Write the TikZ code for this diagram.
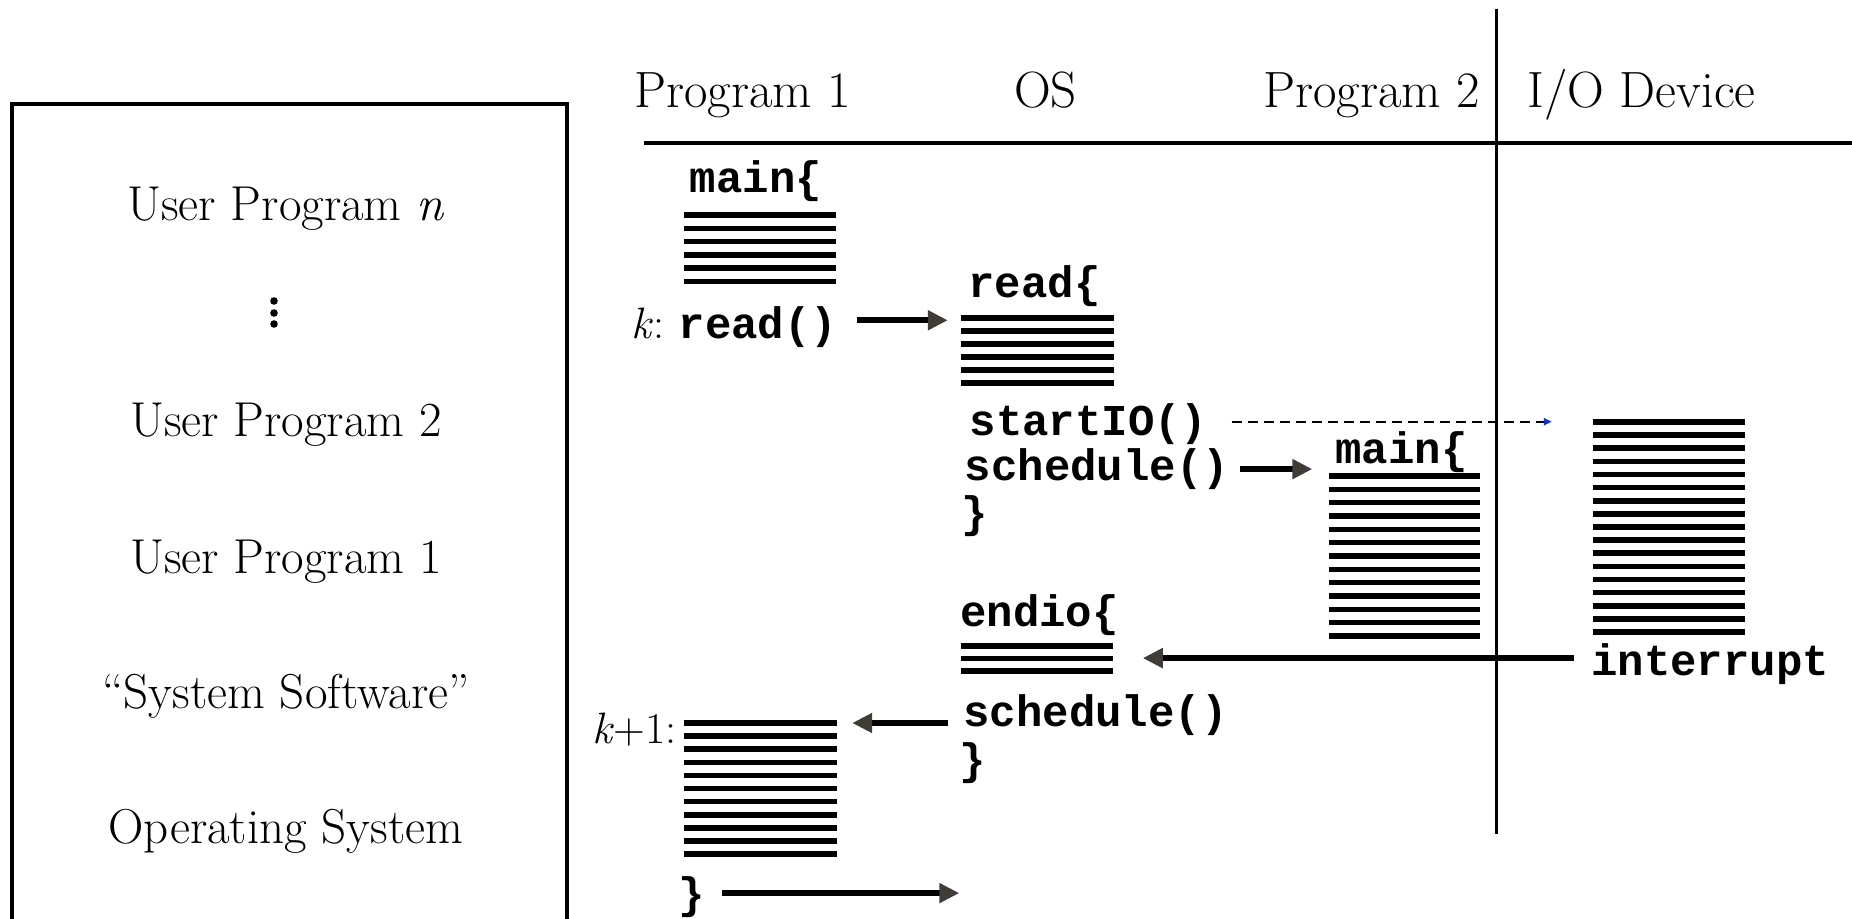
\documentclass[tikz,border=0pt]{standalone}
\usepackage{fontspec}
\setmonofont{Liberation Mono}
\usetikzlibrary{arrows.meta,calc,fit}
\definecolor{headgray}{HTML}{3F3D36}
\definecolor{iobl}{HTML}{1530C8}
% name, x1, x2, y of first line, spacing, number of lines
\newcommand\mkblock[6]{%
  \foreach \i in {1,...,#6}{\draw[codeline] (#2,{#4+(\i-1)*#5}) -- (#3,{#4+(\i-1)*#5});}
  \coordinate (#1-nw) at (#2,#4);
  \coordinate (#1-se) at (#3,{#4+(#6-1)*#5});
  \node[fit=(#1-nw)(#1-se),inner sep=0pt,draw=none] (#1) {};
}
\begin{document}
\begin{tikzpicture}[x=1pt,y=-1pt,
  hdr/.style={font=\fontsize{51}{55}\selectfont, anchor=base, inner sep=0pt},
  boxtxt/.style={font=\fontsize{49}{53}\selectfont, anchor=base, inner sep=0pt},
  code/.style={font=\fontsize{44}{48}\selectfont\ttfamily\bfseries, anchor=base, inner sep=0pt, text height=26.4pt, text depth=6.6pt},
  lbl/.style={font=\fontsize{44}{48}\selectfont, anchor=base, inner sep=0pt},
  codeline/.style={line width=5.6pt},
  rule/.style={line width=3.8pt},
  arr/.style={line width=6pt, -{Triangle[length=20pt,width=19pt,color=headgray]}},
  dasharr/.style={line width=2pt, dash pattern=on 10pt off 6pt, -{Triangle[length=8pt,width=7pt,color=iobl]}}
]
\useasboundingbox (0,0) rectangle (1852,918);
\clip (0,0) rectangle (1852,918);

% left box
\draw[rule, line join=miter] (12,940) -- (12,104) -- (567,104) -- (567,940);
\node[boxtxt] (upn) at (286,220) {User Program \textit{n}};
\foreach \yy in {301,313,324} \fill (274,\yy) circle (3.8pt);
\node[boxtxt] (up2) at (286,436) {User Program 2};
\node[boxtxt] (up1) at (286,573) {User Program 1};
\node[boxtxt] (sys) at (286,708) {“System Software”};
\node[boxtxt] (os) at (286,843) {Operating System};

% headers and rules
\node[hdr] (h1) at (742.5,107) {Program 1};
\node[hdr] (h2) at (1045.5,107) {OS};
\node[hdr] (h3) at (1371.5,107) {Program 2};
\node[hdr] (h4) at (1641.5,107) {I/O Device};
\draw[rule] (644,143) -- (1852,143);
\draw[line width=3.5pt] (1496.5,9) -- (1496.5,834);

% Program 1
\node[code] (main1) at (756,192) {main\{};
\mkblock{blkA}{684}{836}{215}{13.3}{6}
\node[lbl] (klbl) at (648,338) {\textit{k}:};
\node[code] (readcall) at (758,338) {read()};

% OS: read
\node[code] (readdef) at (1034.5,297) {read\{};
\mkblock{blkB}{961}{1114}{318}{13.0}{6}
\node[code] (startio) at (1088.5,435) {startIO()};
\node[code] (sched1) at (1097,480) {schedule()};
\node[code] (brace1) at (975,527) {\}};

% Program 2
\node[code] (main2) at (1401.5,463) {main\{};
\mkblock{blkC}{1329}{1480}{476}{13.333}{13}

% I/O device
\mkblock{blkD}{1593}{1745}{422}{13.125}{17}
\node[code] (intr) at (1710,675) {interrupt};

% OS: endio
\node[code] (endio) at (1039.5,626) {endio\{};
\mkblock{blkE}{961}{1113}{646}{12.5}{3}
\node[code] (sched2) at (1095.5,726) {schedule()};
\node[code] (brace2) at (973,774) {\}};

% Program 1 resumes
\node[lbl] (k1lbl) at (634.5,743) {\textit{k}+1:};
\mkblock{blkF}{684}{837}{723}{13.1}{11}
\node[code] (endbrace) at (692,908) {\}};

% connectors
\draw[arr] ($(readcall.east)+(20pt,7.8pt)$) -- ($(readcall.east -| blkB.west)+(-13pt,7.8pt)$);
\draw[dasharr] ($(startio.east)+(24pt,3.4pt)$) -- ($(startio.east -| blkD.west)+(-41pt,3.4pt)$);
\draw[arr] ($(sched1.east)+(11pt,1pt)$) -- ($(sched1.east -| blkC.west)+(-16.5pt,1pt)$);
\draw[arr] ($(intr.west)+(-17pt,7pt)$) -- ($(intr.west -| blkE.east)+(29.6pt,7pt)$);
\draw[arr] ($(sched2.west)+(-15.5pt,-6.9pt)$) -- ($(sched2.west -| blkF.east)+(15pt,-6.9pt)$);
\coordinate (exitpt) at ($(endbrace.east -| blkE.west)+(-1.5pt,5pt)$);
\draw[arr] ($(endbrace.east)+(17pt,5pt)$) -- (exitpt);
\end{tikzpicture}
\end{document}
